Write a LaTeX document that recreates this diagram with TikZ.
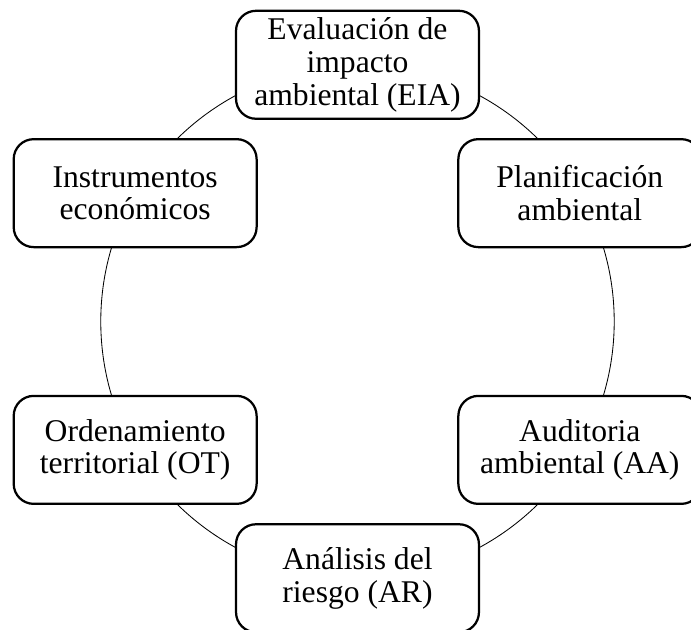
\documentclass[tikz,border=0pt]{standalone}
\usepackage{fontspec}
\setmainfont{Liberation Serif}
\newcommand{\clrbox}{black}
\newcommand{\clrring}{black}
\tikzset{
    stage/.style={draw=\clrbox, line width=1.6pt, rounded corners=0.5cm, fill=white,
        align=center, minimum width=6.075cm, minimum height=2.7cm, inner sep=0pt,
        font=\fontsize{22.5}{23.2}\selectfont}
}
\begin{document}
\begin{tikzpicture}

        \useasboundingbox (-8.94,-7.71) rectangle (8.34,8.04);

        \coordinate (c) at (0,0);
        \draw[line width=0.6pt, \clrring] (c) circle (6.42);

        \foreach \a/\t [count=\i] in {90/{Evaluación de\\impacto\\ambiental (EIA)},
                30/{Planificación\\ambiental}, -30/{Auditoria\\ambiental (AA)},
                -90/{Análisis del\\riesgo (AR)}, 210/{Ordenamiento\\territorial (OT)},
                150/{Instrumentos\\económicos}}
        {
            \node[stage] (s\i) at (\a:6.42) {\t};
        }

    \end{tikzpicture}
\end{document}
